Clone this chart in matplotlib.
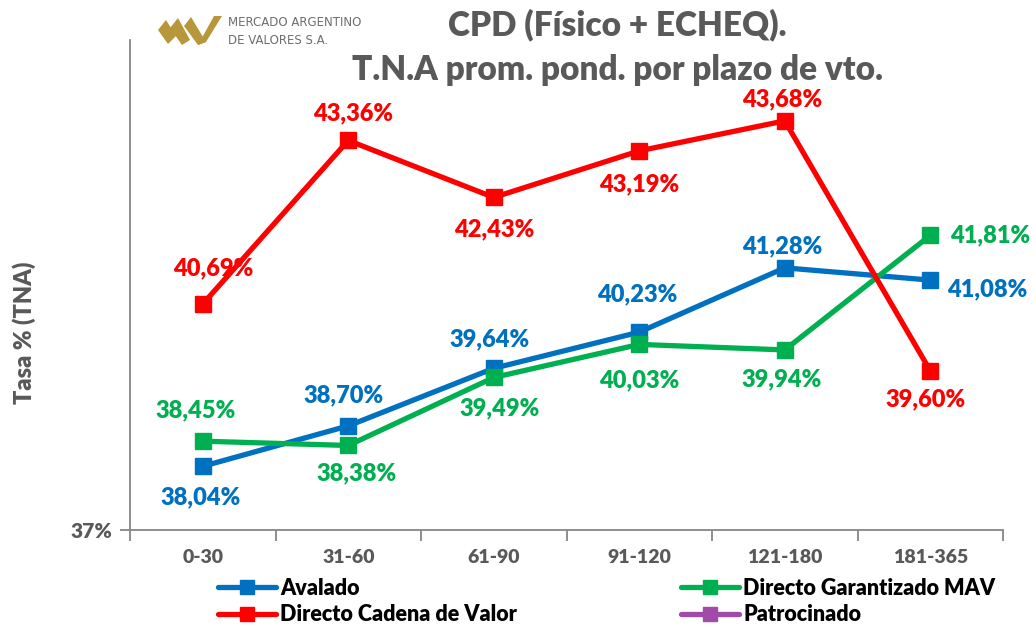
import matplotlib
matplotlib.use("Agg")
import matplotlib.pyplot as plt
import numpy as np
from matplotlib.lines import Line2D
from matplotlib.patches import Polygon

plt.rcParams['font.family'] = ['Lato', 'DejaVu Sans']
plt.rcParams['font.weight'] = 'heavy'
W8 = 'heavy'

categories = ["0-30", "31-60", "61-90", "91-120", "121-180", "181-365"]
avalado = [38.04, 38.70, 39.64, 40.23, 41.28, 41.08]
garantizado = [38.45, 38.38, 39.49, 40.03, 39.94, 41.81]
cadena = [40.69, 43.36, 42.43, 43.19, 43.68, 39.60]
patrocinado = [np.nan] * 6

colors = {"Avalado": "#0070C0", "Directo Garantizado MAV": "#00B050",
          "Directo Cadena de Valor": "#FF0000", "Patrocinado": "#A04AAA"}

# label offsets in pixels (dx, dy) per series / point
off_aval = [(-2, -31), (-5, 31), (-4, 29), (-2, 38), (-3, 22), (57, -9)]
off_gar = [(-7, 31), (8, -28), (6, -31), (0, -36), (-3, -29), (60, 0)]
off_cad = [(10, 36), (5, 27), (0, -32), (0, -33), (-3, 22), (-5, -29)]

fig = plt.figure(figsize=(10.36, 6.34), dpi=100)
ax = fig.add_axes([130/1036, 1-530/634, 873/1036, 490/634])

x = np.arange(len(categories))
lw = 3.8
ms = 12
for name, vals, offs in [("Avalado", avalado, off_aval),
                         ("Directo Garantizado MAV", garantizado, off_gar),
                         ("Directo Cadena de Valor", cadena, off_cad)]:
    c = colors[name]
    ax.plot(x, vals, color=c, lw=lw, marker='s', ms=ms, zorder=3)
    for xi, v, (dx, dy) in zip(x, vals, offs):
        ax.annotate(f"{v:.2f}%".replace('.', ','), (xi, v), xytext=(dx, dy),
                    textcoords='offset pixels', ha='center', va='center',
                    color=c, fontsize=17, fontweight=W8, zorder=5)
ax.plot(x, patrocinado, color=colors["Patrocinado"], lw=lw, marker='s', ms=ms)

ax.set_xlim(-0.5, len(categories) - 0.5)
ax.set_ylim(37, 45)
ax.set_yticks([37])
ax.set_yticklabels(["37%"])
ax.set_xticks(x)
ax.set_xticklabels(categories)
ax.set_xticks(np.arange(-0.5, len(categories), 1), minor=True)
ax.tick_params(axis='x', which='major', length=0, pad=14, labelsize=14, labelcolor='#595959')
ax.tick_params(axis='x', which='minor', length=8, width=1.3, color='#868686')
ax.tick_params(axis='y', length=7, width=1.3, color='#868686', labelsize=15, labelcolor='#595959', pad=6)
for lab in ax.get_xticklabels() + ax.get_yticklabels():
    lab.set_fontweight(W8)
for s in ['top', 'right']:
    ax.spines[s].set_visible(False)
for s in ['left', 'bottom']:
    ax.spines[s].set_color('#868686')
    ax.spines[s].set_linewidth(1.3)

fig.text(24/1036, 1-333/634, "Tasa % (TNA)", rotation=90, ha='center', va='center',
         fontsize=17, fontweight=W8, color='#595959')

fig.text(617/1036, 1-25/634, "CPD (Físico + ECHEQ).", ha='center', va='center',
         fontsize=24, fontweight=W8, color='#595959')
fig.text(617/1036, 1-70/634, "T.N.A prom. pond. por plazo de vto.", ha='center', va='center',
         fontsize=24, fontweight=W8, color='#595959')

# logo
gold = '#B8963A'
W, H = 1036, 634
def fpoly(pts):
    return Polygon([(px / W, 1 - py / H) for px, py in pts], closed=True,
                   transform=fig.transFigure, color=gold, lw=0)
fig.patches.extend([
    fpoly([(158, 30), (166, 20), (176, 36), (168, 44)]),
    fpoly([(170, 28), (178, 18), (190, 40), (182, 45)]),
    fpoly([(184, 26), (191, 17), (206, 42), (198, 45)]),
    fpoly([(198, 45), (206, 42), (222, 16), (214, 16)]),
])
fig.text(228/1036, 1-22/634, "MERCADO ARGENTINO", fontsize=8.5, color='#6e6e6e',
         fontweight='normal', va='center', ha='left', family='Liberation Sans Narrow')
fig.text(228/1036, 1-41/634, "DE VALORES S.A.", fontsize=8.5, color='#6e6e6e',
         fontweight='normal', va='center', ha='left', family='Liberation Sans Narrow')

def handle(name):
    return Line2D([], [], color=colors[name], lw=lw, marker='s', ms=10, solid_capstyle='round')

leg_kw = dict(frameon=False, fontsize=15.5, handlelength=2.7, handletextpad=0.2,
              labelspacing=0.25, loc='upper left', borderaxespad=0, borderpad=0)
l1 = fig.legend([handle("Avalado"), handle("Directo Cadena de Valor")],
                ["Avalado", "Directo Cadena de Valor"],
                bbox_to_anchor=(218/1036, 1-578/634), **leg_kw)
l2 = fig.legend([handle("Directo Garantizado MAV"), handle("Patrocinado")],
                ["Directo Garantizado MAV", "Patrocinado"],
                bbox_to_anchor=(681/1036, 1-578/634), **leg_kw)
for lg in (l1, l2):
    for t in lg.get_texts():
        t.set_fontweight(W8)
        t.set_color('black')

fig.savefig("out.png", dpi=100)
